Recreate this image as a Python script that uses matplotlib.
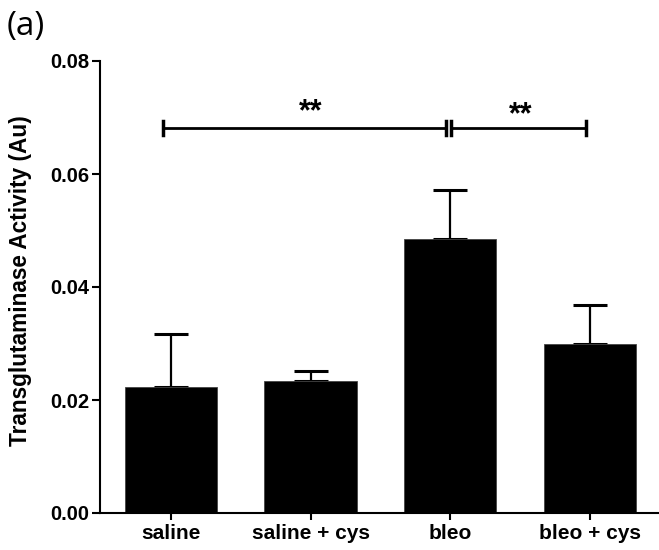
import matplotlib
matplotlib.use("Agg")
import matplotlib.pyplot as plt
import numpy as np

categories = ["saline", "saline + cys", "bleo", "bleo + cys"]
means = [0.0223, 0.0234, 0.0485, 0.0299]
errors = [0.0094, 0.0017, 0.0087, 0.0069]
yticks = [0.00, 0.02, 0.04, 0.06, 0.08]
comparisons = [(0, 2, "**"), (2, 3, "**")]
bracket_y = 0.0681

plt.rcParams['font.family'] = ['Liberation Sans', 'DejaVu Sans']

fig = plt.figure(figsize=(6.59, 5.5), dpi=100)
ax = fig.add_axes([100/659, 37/550, 558/659, 452/550])

x = np.arange(len(categories))
ax.bar(x, means, width=0.66, color='black', edgecolor='#444444', linewidth=0.6, zorder=2)
ax.errorbar(x, means, yerr=[np.zeros(len(errors)), errors], fmt='none',
            ecolor='black', elinewidth=1.6, capsize=12, capthick=2.2, zorder=1)

ax.set_xlim(-0.507, 3.486)
ax.set_ylim(0, 0.08)
ax.set_yticks(yticks)
ax.set_yticklabels([f"{v:.2f}" for v in yticks], fontsize=14.5, fontweight='bold')
ax.set_xticks(x)
ax.set_xticklabels(categories, fontsize=15, fontweight='bold')
ax.set_ylabel("Transglutaminase Activity (Au)", fontsize=16.3, fontweight='bold')
ax.yaxis.set_label_coords(-0.122, 0.513)

for s in ['top', 'right']:
    ax.spines[s].set_visible(False)
for s in ['left', 'bottom']:
    ax.spines[s].set_linewidth(1.5)
ax.tick_params(axis='y', direction='out', length=6, width=1.5, pad=2)
ax.tick_params(axis='x', direction='out', length=5, width=1.5, pad=3)

tick_h = 0.00125
offsets = [0.0001, -0.0003]
for i, (a, b, lab) in enumerate(comparisons):
    xa = a - 0.057 if i == 0 else a + 0.007
    xb = b - 0.029
    ax.plot([xa, xb], [bracket_y, bracket_y], color='black', lw=2, zorder=3)
    for xx in (xa, xb):
        ax.plot([xx, xx], [bracket_y - tick_h, bracket_y + tick_h], color='black', lw=2.5, zorder=3)
    ax.text((a + b) / 2, bracket_y + offsets[i], lab, ha='center', va='bottom',
            fontsize=22, fontweight='bold')

fig.text(7/659, 1 - 35/550, "(a)", fontsize=24, family=['Open Sans', 'DejaVu Sans'], ha='left', va='baseline')

fig.savefig("out.png", dpi=100)
